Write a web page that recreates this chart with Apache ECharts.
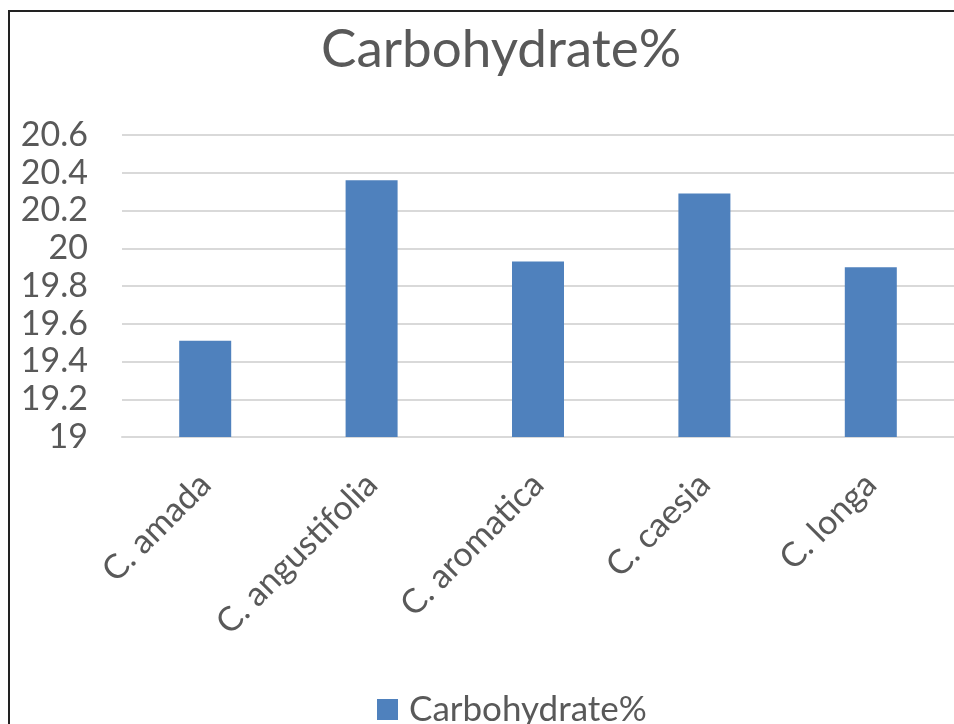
<!DOCTYPE html>
<html><head><meta charset="utf-8">
<style>html,body{margin:0;padding:0;background:#fff}#c{width:954px;height:724px}</style>
<script src="https://cdn.jsdelivr.net/npm/echarts@6/dist/echarts.min.js"></script>
</head><body><div id="c"></div>
<script>
const categories = ['C. amada', 'C. angustifolia', 'C. aromatica', 'C. caesia', 'C. longa'];
const values = [19.51, 20.36, 19.93, 20.29, 19.90];
const seriesName = 'Carbohydrate%';
const titleText = 'Carbohydrate%';

const chart = echarts.init(document.getElementById('c'));
const FONT = 'Lato';
chart.setOption({
  animation: false,
  backgroundColor: '#fff',
  title: {
    text: titleText, left: 316, top: 18,
    textStyle: { fontFamily: FONT, fontSize: 53, fontWeight: 'normal', color: '#595959' }
  },
  legend: {
    data: [seriesName], bottom: -8, left: 372,
    icon: 'rect', itemWidth: 21, itemHeight: 21, itemGap: 10,
    textStyle: { fontFamily: FONT, fontSize: 35, color: '#595959', padding: [0, 0, 0, 6] }
  },
  grid: { left: 122, right: -6, top: 135, bottom: 287 },
  xAxis: {
    type: 'category', data: categories,
    axisLine: { show: true, lineStyle: { color: '#d9d9d9', width: 2 } },
    axisTick: { show: false },
    axisLabel: { rotate: 45, interval: 0, margin: 42, fontFamily: FONT, fontSize: 34, color: '#595959' }
  },
  yAxis: {
    type: 'value', min: 19, max: 20.6, interval: 0.2,
    axisLine: { show: false }, axisTick: { show: false },
    splitLine: { lineStyle: { color: '#d9d9d9', width: 2 } },
    axisLabel: { margin: 34, fontFamily: FONT, fontSize: 34, color: '#595959',
      formatter: v => String(Math.round(v * 10) / 10) }
  },
  series: [{
    name: seriesName, type: 'bar', data: values, barWidth: 52,
    itemStyle: { color: '#4f81bd' }
  }],
  graphic: [{
    type: 'rect', shape: { x: 9, y: 11, width: 960, height: 730 },
    style: { fill: 'none', stroke: '#222', lineWidth: 2 }, z: 100
  }]
});
</script></body></html>
